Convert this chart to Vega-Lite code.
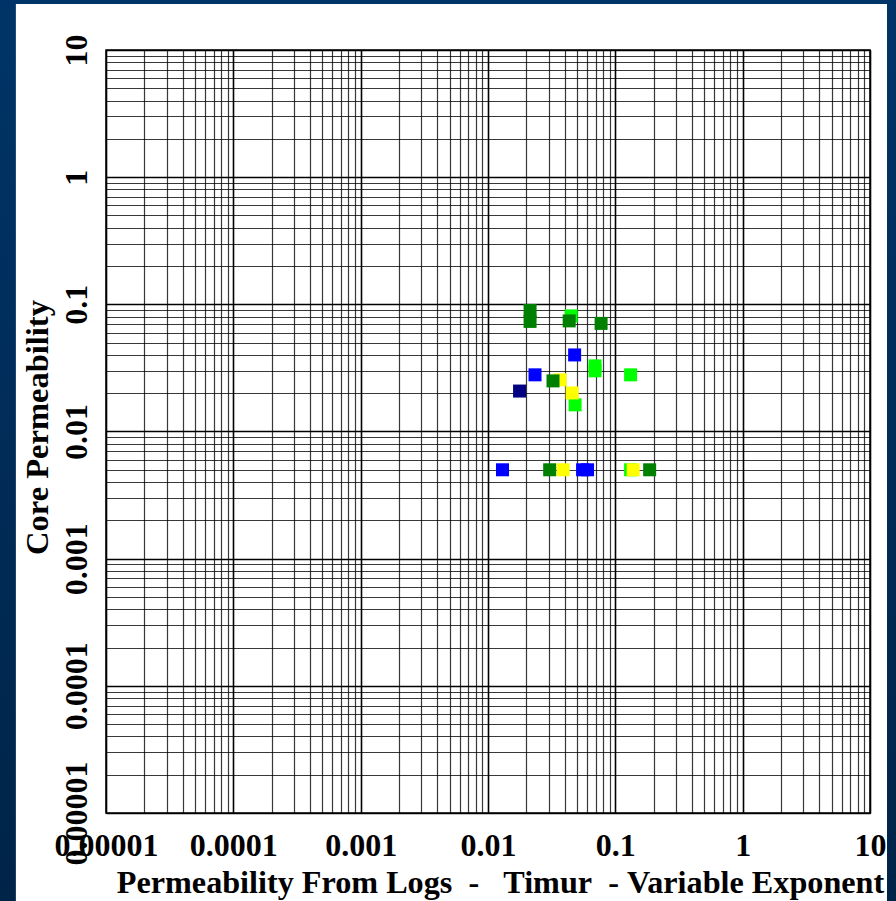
{
  "$schema": "https://vega.github.io/schema/vega-lite/v6.json",
  "width": 764,
  "height": 763,
  "autosize": {"type": "none"},
  "padding": {"left": 106, "top": 50, "right": 26, "bottom": 88},
  "background": "white",
  "config": {
    "view": {"stroke": "black", "strokeWidth": 1.5},
    "font": "Liberation Serif"
  },
  "layer": [
    {
      "data": {
        "values": [
          {"group": "A", "logPerm": 0.0450, "corePerm": 0.0811},
          {"group": "A", "logPerm": 0.0693, "corePerm": 0.0328},
          {"group": "A", "logPerm": 0.0693, "corePerm": 0.0300},
          {"group": "A", "logPerm": 0.1318, "corePerm": 0.0279},
          {"group": "A", "logPerm": 0.0483, "corePerm": 0.0162},
          {"group": "A", "logPerm": 0.1318, "corePerm": 0.005},
          {"group": "B", "logPerm": 0.0368, "corePerm": 0.0255},
          {"group": "B", "logPerm": 0.0458, "corePerm": 0.0201},
          {"group": "B", "logPerm": 0.0389, "corePerm": 0.005},
          {"group": "B", "logPerm": 0.138, "corePerm": 0.005},
          {"group": "C", "logPerm": 0.0479, "corePerm": 0.0400},
          {"group": "C", "logPerm": 0.0234, "corePerm": 0.0279},
          {"group": "C", "logPerm": 0.0130, "corePerm": 0.005},
          {"group": "C", "logPerm": 0.0553, "corePerm": 0.005},
          {"group": "C", "logPerm": 0.0605, "corePerm": 0.005},
          {"group": "D", "logPerm": 0.0177, "corePerm": 0.0208},
          {"group": "E", "logPerm": 0.0214, "corePerm": 0.0895},
          {"group": "E", "logPerm": 0.0214, "corePerm": 0.0734},
          {"group": "E", "logPerm": 0.0434, "corePerm": 0.0741},
          {"group": "E", "logPerm": 0.0773, "corePerm": 0.0708},
          {"group": "E", "logPerm": 0.0324, "corePerm": 0.0250},
          {"group": "E", "logPerm": 0.0305, "corePerm": 0.005},
          {"group": "E", "logPerm": 0.186, "corePerm": 0.005}
        ]
      },
      "mark": {"type": "square", "size": 169, "filled": true, "opacity": 1, "strokeWidth": 0},
      "encoding": {
        "x": {
          "field": "logPerm",
          "type": "quantitative",
          "scale": {"type": "log", "domain": [0.00001, 10]},
          "axis": {
            "title": "Permeability From Logs\u00a0\u00a0-\u00a0\u00a0\u00a0Timur\u00a0\u00a0-\u00a0Variable Exponent",
            "values": [0.00001, 0.00002, 0.00003, 0.00004, 0.00005, 0.00006, 0.00007, 0.00008, 0.00009,
                       0.0001, 0.0002, 0.0003, 0.0004, 0.0005, 0.0006, 0.0007, 0.0008, 0.0009,
                       0.001, 0.002, 0.003, 0.004, 0.005, 0.006, 0.007, 0.008, 0.009,
                       0.01, 0.02, 0.03, 0.04, 0.05, 0.06, 0.07, 0.08, 0.09,
                       0.1, 0.2, 0.3, 0.4, 0.5, 0.6, 0.7, 0.8, 0.9,
                       1, 2, 3, 4, 5, 6, 7, 8, 9, 10],
            "labelExpr": "abs(log(datum.value)/LN10 - round(log(datum.value)/LN10)) < 1e-6 ? format(datum.value, '~f') : ''",
            "grid": true,
            "gridColor": "black",
            "gridWidth": {"condition": {"test": "abs(log(datum.value)/LN10 - round(log(datum.value)/LN10)) < 1e-6", "value": 1.6}, "value": 1.2},
            "gridOpacity": {"condition": {"test": "abs(log(datum.value)/LN10 - round(log(datum.value)/LN10)) < 1e-6", "value": 1}, "value": 0.78},
            "ticks": false,
            "tickSize": 0,
            "domain": false,
            "labelFlush": false,
            "labelOverlap": false,
            "labelFont": "Liberation Serif",
            "labelFontWeight": "bold",
            "labelFontSize": 32,
            "labelColor": "black",
            "labelAlign": "center",
            "labelBaseline": "alphabetic",
            "labelPadding": 42,
            "titleFont": "Liberation Serif",
            "titleFontWeight": "bold",
            "titleFontSize": 32.2,
            "titleColor": "black",
            "titleAlign": "center",
            "titleBaseline": "alphabetic",
            "titleX": 394,
            "titleY": 79
          }
        },
        "y": {
          "field": "corePerm",
          "type": "quantitative",
          "scale": {"type": "log", "domain": [0.00001, 10]},
          "axis": {
            "title": "Core Permeability",
            "values": [0.00001, 0.00002, 0.00003, 0.00004, 0.00005, 0.00006, 0.00007, 0.00008, 0.00009,
                       0.0001, 0.0002, 0.0003, 0.0004, 0.0005, 0.0006, 0.0007, 0.0008, 0.0009,
                       0.001, 0.002, 0.003, 0.004, 0.005, 0.006, 0.007, 0.008, 0.009,
                       0.01, 0.02, 0.03, 0.04, 0.05, 0.06, 0.07, 0.08, 0.09,
                       0.1, 0.2, 0.3, 0.4, 0.5, 0.6, 0.7, 0.8, 0.9,
                       1, 2, 3, 4, 5, 6, 7, 8, 9, 10],
            "labelExpr": "abs(log(datum.value)/LN10 - round(log(datum.value)/LN10)) < 1e-6 ? format(datum.value, '~f') : ''",
            "grid": true,
            "gridColor": "black",
            "gridWidth": {"condition": {"test": "abs(log(datum.value)/LN10 - round(log(datum.value)/LN10)) < 1e-6", "value": 1.6}, "value": 1.2},
            "gridOpacity": {"condition": {"test": "abs(log(datum.value)/LN10 - round(log(datum.value)/LN10)) < 1e-6", "value": 1}, "value": 0.78},
            "ticks": false,
            "tickSize": 0,
            "domain": false,
            "labelFlush": false,
            "labelOverlap": false,
            "labelFont": "Liberation Serif",
            "labelFontWeight": "bold",
            "labelFontSize": 32,
            "labelColor": "black",
            "labelAngle": 270,
            "labelAlign": "center",
            "labelBaseline": "alphabetic",
            "labelPadding": 20,
            "titleFont": "Liberation Serif",
            "titleFontWeight": "bold",
            "titleFontSize": 32.5,
            "titleColor": "black",
            "titleAngle": 270,
            "titleAlign": "center",
            "titleBaseline": "alphabetic",
            "titleX": -59,
            "titleY": 377
          }
        },
        "color": {
          "field": "group",
          "type": "nominal",
          "scale": {"domain": ["A", "B", "C", "D", "E"], "range": ["#00ff00", "#ffff00", "#0000ff", "#000080", "#008000"]},
          "legend": null
        }
      }
    },
    {
      "data": {"values": [{}]},
      "mark": {"type": "rect", "fill": {"gradient": "linear", "x1": 0, "y1": 0, "x2": 0, "y2": 1, "stops": [{"offset": 0, "color": "#003468"}, {"offset": 1, "color": "#002448"}]}},
      "encoding": {
        "x": {"datum": 1e-6, "type": "quantitative", "scale": {"type": "log", "domain": [0.00001, 10]}},
        "x2": {"datum": 1.96e-6},
        "y": {"datum": 25, "type": "quantitative", "scale": {"type": "log", "domain": [0.00001, 10]}},
        "y2": {"datum": 2e-6}
      }
    },
    {
      "data": {"values": [{}]},
      "mark": {"type": "rect", "fill": "#003468"},
      "encoding": {
        "x": {"datum": 1e-6, "type": "quantitative", "scale": {"type": "log", "domain": [0.00001, 10]}},
        "x2": {"datum": 100},
        "y": {"datum": 25, "type": "quantitative", "scale": {"type": "log", "domain": [0.00001, 10]}},
        "y2": {"datum": 23}
      }
    },
    {
      "data": {"values": [{}]},
      "mark": {"type": "rect", "fill": {"gradient": "linear", "x1": 0, "y1": 0, "x2": 0, "y2": 1, "stops": [{"offset": 0, "color": "#003468"}, {"offset": 1, "color": "#002448"}]}},
      "encoding": {
        "x": {"datum": 13.6, "type": "quantitative", "scale": {"type": "log", "domain": [0.00001, 10]}},
        "x2": {"datum": 30},
        "y": {"datum": 25, "type": "quantitative", "scale": {"type": "log", "domain": [0.00001, 10]}},
        "y2": {"datum": 2e-6}
      }
    }
  ]
}
